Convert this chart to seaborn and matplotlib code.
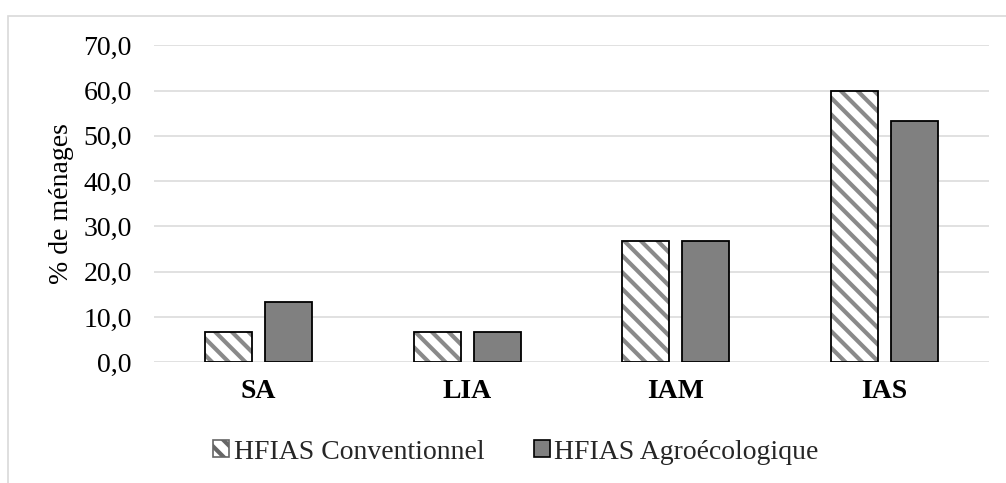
import matplotlib
matplotlib.use("Agg")
import matplotlib.pyplot as plt
import matplotlib.patches as mpatches
from matplotlib.ticker import FuncFormatter, MultipleLocator
import seaborn as sns
import pandas as pd

categories = ["SA", "LIA", "IAM", "IAS"]
series_names = ["HFIAS Conventionnel", "HFIAS Agroécologique"]
conventionnel = [6.7, 6.7, 26.7, 60.0]
agroecologique = [13.3, 6.7, 26.7, 53.3]
y_label = "% de ménages"

df = pd.DataFrame({
    "cat": categories * 2,
    "serie": [series_names[0]] * 4 + [series_names[1]] * 4,
    "val": conventionnel + agroecologique,
})

sns.set_theme(style="white")
plt.rcParams["font.family"] = ["Liberation Serif", "DejaVu Serif"]
plt.rcParams["hatch.linewidth"] = 3.0

FS = 20

fig = plt.figure(figsize=(10.06, 4.83), dpi=100)
ax = fig.add_axes([0.1531, 0.2499, 0.83, 0.6563])

palette = {series_names[0]: "white", series_names[1]: "#808080"}
sns.barplot(data=df, x="cat", y="val", hue="serie", palette=palette,
            width=0.574, gap=0.216, edgecolor="black", linewidth=1.3,
            saturation=1, ax=ax, legend=False, errorbar=None)

# hatch first series with gray stripes and black outline
for p in ax.containers[0].patches:
    p.set_hatch("\\\\")
    p.set_edgecolor("#8a8a8a")
    p.set_linewidth(0)
    outline = mpatches.Rectangle(p.get_xy(), p.get_width(), p.get_height(),
                                 fill=False, edgecolor="black", linewidth=1.3,
                                 zorder=p.get_zorder() + 1)
    ax.add_patch(outline)

ax.set_ylim(0, 70)
ax.set_xlim(-0.5, 3.5)
ax.yaxis.set_major_locator(MultipleLocator(10))
ax.yaxis.set_major_formatter(FuncFormatter(lambda v, _: f"{v:.1f}".replace(".", ",")))
ax.grid(axis="y", color="#d9d9d9", linewidth=1.1)
ax.set_axisbelow(True)
for s in ax.spines.values():
    s.set_visible(False)
ax.tick_params(axis="y", length=0, pad=16, labelsize=FS, labelcolor="black")
ax.tick_params(axis="x", length=0, pad=12, labelsize=FS, labelcolor="black")
for t in ax.get_xticklabels():
    t.set_fontweight("bold")
ax.set_xlabel("")
ax.set_ylabel(y_label, fontsize=FS, color="black", labelpad=7)

h1 = mpatches.Patch(facecolor="white", edgecolor="#666666", hatch="\\\\", linewidth=1.2)
h2 = mpatches.Patch(facecolor="#808080", edgecolor="black", linewidth=1.2)
leg = fig.legend(handles=[h1, h2], labels=series_names, loc="center",
                 bbox_to_anchor=(0.513, 0.064), ncol=2, frameon=False,
                 fontsize=FS, handlelength=0.58, handleheight=0.58,
                 handletextpad=0.15, columnspacing=1.8)

# outer chart-area border
border = mpatches.Rectangle((8 / 1006, -0.05), 1.1, 1 - 16 / 483 + 0.05,
                            transform=fig.transFigure, fill=False,
                            edgecolor="#d9d9d9", linewidth=1.2)
fig.patches.append(border)

fig.savefig("out.png", dpi=100)
